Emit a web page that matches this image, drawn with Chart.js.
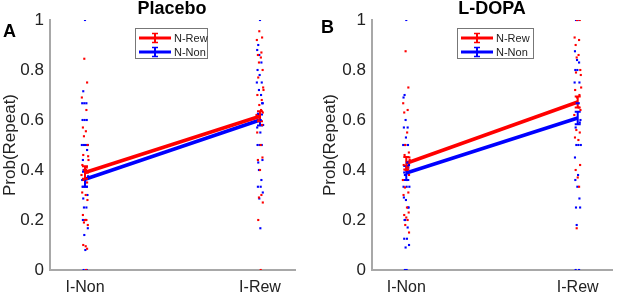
<!DOCTYPE html>
<html>
<head>
<meta charset="utf-8">
<script src="https://cdn.jsdelivr.net/npm/chart.js@4.4.1/dist/chart.umd.min.js"></script>
<style>
  body { margin: 0; background: #fff; font-family: "Liberation Sans", Arial, sans-serif; }
  #wrap { position: relative; width: 617px; height: 295px; overflow: hidden; }
  canvas { position: absolute; top: 0; }
  .ttl { position: absolute; font-weight: bold; font-size: 18px; color: #000; transform: translateX(-50%); white-space: nowrap; }
  .let { position: absolute; font-weight: bold; font-size: 18px; color: #000; }
  .legend { position: absolute; border: 1px solid #777; background: #fff; box-sizing: border-box; padding-top: 2px; }
  .legend .row { height: 14px; display: flex; align-items: center; font-size: 11px; color: #222; white-space: nowrap; }
  .legend svg { margin-left: 2px; margin-right: 2px; flex: none; }
</style>
</head>
<body>
<div id="wrap">
  <canvas id="cA" width="305" height="295" style="left:0"></canvas>
  <canvas id="cB" width="312" height="295" style="left:305px"></canvas>
  <div class="ttl" style="left:172px;top:-2px">Placebo</div>
  <div class="ttl" style="left:492px;top:-2px">L-DOPA</div>
  <div class="let" style="left:3px;top:21px">A</div>
  <div class="let" style="left:321px;top:17px">B</div>
  <div class="legend" style="left:135px;top:28px;width:73px;height:31px" id="legA"></div>
  <div class="legend" style="left:457px;top:28px;width:77px;height:31px" id="legB"></div>
</div>
<script>
// categories and legend names
var xLabels = ["I-Non", "I-Rew"];
var seriesNames = ["N-Rew", "N-Non"];

// group means and error bars (index 0 = I-Non, 1 = I-Rew)
var placeboRewMean = [0.39, 0.615];
var placeboRewErr = [0.025, 0.02];
var placeboNonMean = [0.363, 0.60];
var placeboNonErr = [0.03, 0.022];
var dopaRewMean = [0.427, 0.672];
var dopaRewErr = [0.025, 0.022];
var dopaNonMean = [0.388, 0.608];
var dopaNonErr = [0.028, 0.025];

// single subject values (jittered dots)
var placeboRewAtNon = [0.845,0.75,0.69,0.64,0.57,0.555,0.535,0.5,0.46,0.455,0.44,0.42,0.41,0.40,0.40,0.39,0.38,0.36,0.35,0.31,0.30,0.28,0.22,0.2,0.2,0.19,0.18,0.1,0.095,0.085,0.0];
var placeboNonAtNon = [1.0,0.715,0.667,0.667,0.667,0.6,0.6,0.6,0.5,0.5,0.5,0.5,0.48,0.44,0.4,0.4,0.375,0.36,0.35,0.333,0.333,0.333,0.3,0.286,0.25,0.25,0.2,0.2,0.167,0.14,0.08,0.0,0.0];
var placeboRewAtRew = [0.955,0.93,0.92,0.87,0.86,0.85,0.83,0.8,0.77,0.73,0.72,0.70,0.68,0.66,0.64,0.63,0.62,0.6,0.58,0.55,0.5,0.45,0.44,0.4,0.3,0.29,0.27,0.2,0.0];
var placeboNonAtRew = [1.0,0.9,0.88,0.86,0.83,0.8,0.78,0.75,0.75,0.72,0.7,0.667,0.667,0.625,0.6,0.6,0.58,0.57,0.55,0.5,0.5,0.5,0.44,0.43,0.4,0.36,0.333,0.333,0.31,0.286,0.167];
var dopaRewAtNon = [0.875,0.73,0.667,0.64,0.63,0.55,0.5,0.47,0.46,0.45,0.44,0.42,0.41,0.4,0.4,0.38,0.36,0.33,0.31,0.3,0.25,0.23,0.22,0.21,0.2,0.18,0.15];
var dopaNonAtNon = [1.0,0.7,0.69,0.6,0.57,0.57,0.53,0.5,0.5,0.5,0.43,0.42,0.41,0.39,0.38,0.36,0.333,0.333,0.333,0.29,0.28,0.25,0.25,0.2,0.2,0.17,0.125,0.125,0.1,0.09,0.0,0.0];
var dopaRewAtRew = [1.0,1.0,0.93,0.92,0.9,0.86,0.85,0.8,0.79,0.78,0.73,0.72,0.7,0.69,0.65,0.64,0.62,0.56,0.55,0.53,0.52,0.42,0.4,0.37,0.333,0.167];
var dopaNonAtRew = [1.0,1.0,0.875,0.84,0.83,0.8,0.8,0.75,0.75,0.667,0.667,0.6,0.59,0.57,0.5,0.5,0.5,0.45,0.38,0.36,0.333,0.286,0.25,0.25,0.18,0.0,0.0];

// horizontal jitter of each dot (x units)
var jitRed = [-0.004,0.012,-0.018,0.008,-0.012,0.005,-0.006,0.015,-0.01,0.018,0.02,-0.015,0.01,-0.004,0.006,0.016,-0.02,-0.008,0.012,-0.016,0.004,0.014,-0.012,0.0,0.008,-0.006,0.016,-0.01,0.004,0.012,0.006,-0.014,0.009];
var jitBlue = [0.0,-0.01,-0.016,-0.004,0.008,-0.014,-0.002,0.01,-0.018,-0.006,0.006,0.016,0.012,-0.012,-0.008,0.004,0.018,-0.016,0.002,-0.014,-0.002,0.01,0.014,-0.01,-0.006,0.008,-0.012,0.004,0.016,-0.004,0.002,-0.008,0.01];

var RED = "rgb(255,0,0)";
var BLUE = "rgb(0,0,255)";

function dots(vals, jit, cat) {
  var out = [];
  for (var i = 0; i < vals.length; i++) out.push({ x: cat + jit[i], y: vals[i] });
  return out;
}

var errorBars = {
  id: "errorBars",
  afterDatasetDraw: function(chart, args) {
    var ds = chart.data.datasets[args.index];
    if (!ds.errors) return;
    var ctx = chart.ctx, xs = chart.scales.x, ys = chart.scales.y;
    ctx.save();
    ctx.strokeStyle = ds.borderColor;
    ctx.lineWidth = 2;
    ds.data.forEach(function(p, i) {
      var x = xs.getPixelForValue(p.x);
      var y1 = ys.getPixelForValue(p.y - ds.errors[i]);
      var y2 = ys.getPixelForValue(p.y + ds.errors[i]);
      ctx.beginPath();
      ctx.moveTo(x, y1); ctx.lineTo(x, y2);
      ctx.moveTo(x - 3, y1); ctx.lineTo(x + 3, y1);
      ctx.moveTo(x - 3, y2); ctx.lineTo(x + 3, y2);
      ctx.stroke();
    });
    ctx.restore();
  }
};

function makeChart(id, d, pad, yWidth) {
  var dotStyle = { showLine: false, pointStyle: "rect", pointRadius: 1.5, pointBorderWidth: 0, pointHoverRadius: 1.5 };
  var datasets = [
    Object.assign({ data: dots(d.redNon, jitRed, 1), backgroundColor: RED, borderColor: RED }, dotStyle),
    Object.assign({ data: dots(d.blueNon, jitBlue, 1), backgroundColor: BLUE, borderColor: BLUE }, dotStyle),
    Object.assign({ data: dots(d.redRew, jitRed, 2), backgroundColor: RED, borderColor: RED }, dotStyle),
    Object.assign({ data: dots(d.blueRew, jitBlue, 2), backgroundColor: BLUE, borderColor: BLUE }, dotStyle),
    { label: seriesNames[0], data: [{ x: 1, y: d.rewMean[0] }, { x: 2, y: d.rewMean[1] }], errors: d.rewErr,
      showLine: true, borderColor: RED, backgroundColor: RED, borderWidth: 3.5, pointRadius: 0 },
    { label: seriesNames[1], data: [{ x: 1, y: d.nonMean[0] }, { x: 2, y: d.nonMean[1] }], errors: d.nonErr,
      showLine: true, borderColor: BLUE, backgroundColor: BLUE, borderWidth: 3.5, pointRadius: 0 }
  ];
  return new Chart(document.getElementById(id), {
    type: "scatter",
    data: { datasets: datasets },
    plugins: [errorBars],
    options: {
      responsive: false,
      animation: false,
      layout: { padding: pad },
      plugins: { legend: { display: false }, tooltip: { enabled: false } },
      scales: {
        x: {
          type: "linear", min: 0.8, max: 2.2,
          afterBuildTicks: function(axis) { axis.ticks = [{ value: 1 }, { value: 2 }]; },
          afterFit: function(s) { s.height = 25; },
          ticks: { color: "#222", padding: 8, font: { size: 16, family: "Liberation Sans" },
            callback: function(v) { return xLabels[Math.round(v) - 1]; } },
          grid: { drawOnChartArea: false, drawTicks: false },
          border: { color: "#a8a8a8", width: 2 }
        },
        y: {
          min: 0, max: 1,
          afterFit: function(s) { s.width = yWidth; },
          ticks: { stepSize: 0.2, color: "#222", padding: 6, font: { size: 17, family: "Liberation Sans" },
            callback: function(v) { return String(Math.round(v * 10) / 10); } },
          grid: { drawOnChartArea: false, drawTicks: false },
          border: { color: "#a8a8a8", width: 2 },
          title: { display: true, text: "Prob(Repeat)", color: "#222", padding: 0,
            font: { size: 17, family: "Liberation Sans" } }
        }
      }
    }
  });
}

makeChart("cA", {
  redNon: placeboRewAtNon, blueNon: placeboNonAtNon, redRew: placeboRewAtRew, blueRew: placeboNonAtRew,
  rewMean: placeboRewMean, rewErr: placeboRewErr, nonMean: placeboNonMean, nonErr: placeboNonErr
}, { left: 0, top: 20, right: 10, bottom: 0 }, 50);

makeChart("cB", {
  redNon: dopaRewAtNon, blueNon: dopaNonAtNon, redRew: dopaRewAtRew, blueRew: dopaNonAtRew,
  rewMean: dopaRewMean, rewErr: dopaRewErr, nonMean: dopaNonMean, nonErr: dopaNonErr
}, { left: 15, top: 20, right: 5, bottom: 0 }, 52);

// legends
function legendRow(color, name) {
  return '<div class="row"><svg width="34" height="12">' +
    '<line x1="1" y1="6" x2="33" y2="6" stroke="' + color + '" stroke-width="3"/>' +
    '<line x1="17" y1="1" x2="17" y2="11" stroke="' + color + '" stroke-width="2"/>' +
    '<line x1="14" y1="1.5" x2="20" y2="1.5" stroke="' + color + '" stroke-width="1.5"/>' +
    '<line x1="14" y1="10.5" x2="20" y2="10.5" stroke="' + color + '" stroke-width="1.5"/>' +
    '</svg><span>' + name + '</span></div>';
}
["legA", "legB"].forEach(function(id) {
  document.getElementById(id).innerHTML = legendRow(RED, seriesNames[0]) + legendRow(BLUE, seriesNames[1]);
});
</script>
</body>
</html>
